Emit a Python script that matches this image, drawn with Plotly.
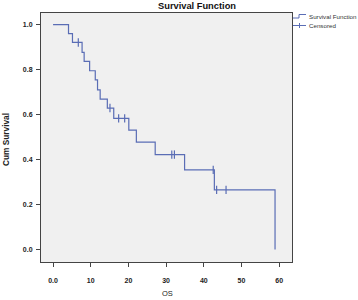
import plotly.graph_objects as go

# Kaplan-Meier step points (time, cumulative survival)
event_times = [0.0, 4.1, 5.15, 7.7, 8.25, 9.7, 11.2, 11.8, 12.5, 14.4, 16.1, 20.1, 22.1, 27.1, 34.9, 42.8, 58.9]
survival = [1.0, 0.960, 0.921, 0.877, 0.837, 0.795, 0.754, 0.710, 0.669, 0.629, 0.583, 0.531, 0.477, 0.422, 0.354, 0.265, 0.0]

# censored observations
censor_times = [6.7, 15.1, 17.4, 19.0, 31.5, 32.2, 42.5, 43.4, 45.9]
censor_surv = [0.921, 0.629, 0.583, 0.583, 0.422, 0.422, 0.354, 0.265, 0.265]

x_ticks = [0, 10, 20, 30, 40, 50, 60]
x_tick_labels = ["0.0", "10", "20", "30", "40", "50", "60"]
y_ticks = [0.0, 0.2, 0.4, 0.6, 0.8, 1.0]
y_tick_labels = ["0.0", "0.2", "0.4", "0.6", "0.8", "1.0"]

legend_labels = ["Survival Function", "Censored"]

line_color = "#5a6db5"
font_family = "Liberation Sans, Arial, sans-serif"

W, H = 358, 300
L, R, T, B = 41, 66, 13, 38
PW, PH = W - L - R, H - T - B


def px(xp):
    return (xp - L) / PW


def py(yp):
    return (H - B - yp) / PH


fig = go.Figure()
fig.add_trace(go.Scatter(
    x=event_times, y=survival, mode="lines", line_shape="hv",
    line=dict(color=line_color, width=1.2), name=legend_labels[0], showlegend=False,
    hoverinfo="skip",
))
fig.add_trace(go.Scatter(
    x=censor_times, y=censor_surv, mode="markers",
    marker=dict(symbol="line-ns-open", size=6, color=line_color,
                line=dict(color=line_color, width=1.2)),
    name=legend_labels[1], showlegend=False, hoverinfo="skip",
))

shapes = []
icon_line = dict(color=line_color, width=1)
# survival function legend icon (step)
shapes.append(dict(type="path", xref="paper", yref="paper",
                   path=f"M {px(293)} {py(18)} L {px(299)} {py(18)} L {px(299)} {py(14.5)} L {px(306)} {py(14.5)}",
                   line=icon_line))
# censored legend icon (line with tick)
shapes.append(dict(type="line", xref="paper", yref="paper",
                   x0=px(293), x1=px(306), y0=py(25.5), y1=py(25.5), line=icon_line))
shapes.append(dict(type="line", xref="paper", yref="paper",
                   x0=px(299.5), x1=px(299.5), y0=py(23), y1=py(28), line=icon_line))

annotations = [
    dict(text=legend_labels[0], xref="paper", yref="paper", x=px(306.5), y=py(17),
         xanchor="left", yanchor="middle", showarrow=False,
         font=dict(size=6.2, color="#333", family=font_family)),
    dict(text=legend_labels[1], xref="paper", yref="paper", x=px(306.5), y=py(25.5),
         xanchor="left", yanchor="middle", showarrow=False,
         font=dict(size=6.2, color="#333", family=font_family)),
    dict(text="<b>Survival Function</b>", xref="paper", yref="paper", x=px(196.5), y=py(5.5),
         xanchor="center", yanchor="middle", showarrow=False,
         font=dict(size=9.3, color="#111", family=font_family)),
    dict(text="OS", xref="paper", yref="paper", x=px(167), y=py(293),
         xanchor="center", yanchor="middle", showarrow=False,
         font=dict(size=7.5, color="#222", family=font_family)),
    dict(text="<b>Cum Survival</b>", xref="paper", yref="paper", x=px(6), y=py(140),
         xanchor="center", yanchor="middle", showarrow=False, textangle=-90,
         font=dict(size=8.3, color="#222", family=font_family)),
]

fig.update_layout(
    width=W, height=H,
    margin=dict(l=L, r=R, t=T, b=B, autoexpand=False),
    paper_bgcolor="white", plot_bgcolor="#f0f0f0",
    font=dict(family=font_family, size=7, color="#222"),
    showlegend=False,
    hovermode=False,
    shapes=shapes,
    annotations=annotations,
    xaxis=dict(range=[-3.2, 63.4], tickvals=x_ticks,
               ticktext=[f"<b>{t}</b>" for t in x_tick_labels],
               showgrid=False, zeroline=False, ticks="outside", ticklen=4, tickcolor="#444",
               ticklabelstandoff=8,
               showline=True, mirror=True, linecolor="#444", linewidth=1,
               tickfont=dict(size=7, color="#222", family=font_family)),
    yaxis=dict(range=[-0.056, 1.052], tickvals=y_ticks,
               ticktext=[f"<b>{t}</b>" for t in y_tick_labels],
               showgrid=False, zeroline=False, ticks="outside", ticklen=4, tickcolor="#444",
               ticklabelstandoff=2,
               showline=True, mirror=True, linecolor="#444", linewidth=1,
               tickfont=dict(size=7, color="#222", family=font_family)),
)

fig.write_html(
    "out.html",
    config={"displayModeBar": False, "staticPlot": True},
    post_script="document.body.style.margin='0';document.documentElement.style.overflow='hidden';",
)
